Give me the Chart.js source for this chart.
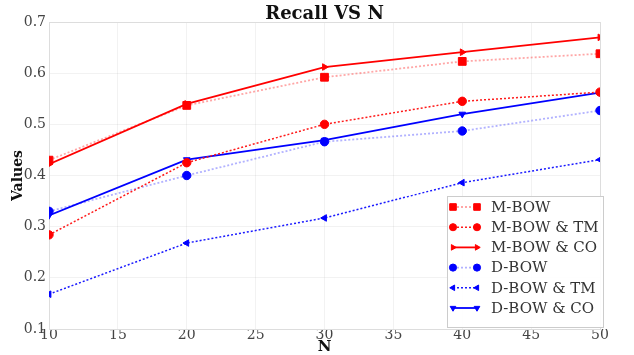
<!DOCTYPE html>
<html>
<head>
<meta charset="utf-8">
<script src="https://cdn.jsdelivr.net/npm/chart.js@4"></script>
<style>
  html, body { margin: 0; padding: 0; background: #fff; }
  #wrap { width: 634px; height: 355px; }
</style>
</head>
<body>
<div id="wrap"><canvas id="recallChart" width="634" height="355"></canvas></div>
<script>
// Data
const nValues = [10, 20, 30, 40, 50];
const mBow = [0.430, 0.537, 0.592, 0.623, 0.638];
const mBowTm = [0.284, 0.425, 0.500, 0.545, 0.563];
const mBowCo = [0.422, 0.540, 0.612, 0.641, 0.670];
const dBow = [0.330, 0.400, 0.466, 0.487, 0.527];
const dBowTm = [0.168, 0.268, 0.317, 0.386, 0.431];
const dBowCo = [0.322, 0.431, 0.469, 0.520, 0.562];
const yTicks = [0.1, 0.2, 0.3, 0.4, 0.5, 0.6, 0.7];

const SERIF = "'DejaVu Serif', serif";
const TITLE = "Recall VS N";

function series(label, values, line, marker, style, rot, dash, width) {
  let r = 4.2;
  if (style === "rect") r = 5.5;
  if (style === "triangle") r = 3.8;
  return {
    label: label,
    data: values.map((v, i) => ({ x: nValues[i], y: v })),
    borderColor: line,
    backgroundColor: marker,
    pointBackgroundColor: marker,
    pointBorderColor: marker,
    pointStyle: style,
    pointRotation: rot,
    pointRadius: r,
    pointBorderWidth: 1,
    borderDash: dash,
    borderWidth: width,
    tension: 0,
    fill: false,
  };
}

// Plot frame and title centred over the plot
const frame = {
  id: "frame",
  beforeDatasetsDraw(chart) {
    const { ctx, chartArea: a } = chart;
    ctx.save();
    ctx.strokeStyle = "#dddddd";
    ctx.lineWidth = 1;
    ctx.strokeRect(a.left + 0.5, a.top + 0.5, a.right - a.left, a.bottom - a.top);
    ctx.fillStyle = "#111111";
    ctx.font = "bold 18px " + SERIF;
    ctx.textAlign = "center";
    ctx.textBaseline = "alphabetic";
    ctx.fillText(TITLE, (a.left + a.right) / 2, 19);
    ctx.restore();
  }
};

// Legend box in the lower right of the plot, two markers per entry
const boxLegend = {
  id: "boxLegend",
  afterDraw(chart) {
    const { ctx, chartArea: a } = chart;
    const sets = chart.data.datasets;
    const w = 156, rowH = 20.2, h = 131;
    const x0 = a.right - w + 3, y0 = a.bottom - h - 2;
    ctx.save();
    ctx.fillStyle = "rgba(255,255,255,0.9)";
    ctx.strokeStyle = "#cccccc";
    ctx.lineWidth = 1;
    ctx.fillRect(x0, y0, w, h);
    ctx.strokeRect(x0 + 0.5, y0 + 0.5, w, h);
    ctx.font = "15px " + SERIF;
    ctx.textBaseline = "middle";
    sets.forEach((ds, i) => {
      const y = y0 + 11 + i * rowH;
      ctx.strokeStyle = ds.borderColor;
      ctx.lineWidth = ds.borderWidth;
      ctx.setLineDash(ds.borderDash);
      ctx.beginPath();
      ctx.moveTo(x0 + 6, y);
      ctx.lineTo(x0 + 30, y);
      ctx.stroke();
      ctx.setLineDash([]);
      [x0 + 6, x0 + 30].forEach(px => {
        ctx.fillStyle = ds.pointBackgroundColor;
        ctx.strokeStyle = ds.pointBorderColor;
        ctx.lineWidth = 1;
        Chart.helpers.drawPoint(ctx, {
          pointStyle: ds.pointStyle,
          rotation: ds.pointRotation,
          radius: ds.pointRadius * 0.85,
          borderWidth: 1
        }, px, y);
      });
      ctx.fillStyle = "#333333";
      ctx.fillText(ds.label, x0 + 44, y + 1);
    });
    ctx.restore();
  }
};

const ctx = document.getElementById("recallChart").getContext("2d");
const recallChart = new Chart(ctx, {
  type: "line",
  data: {
    datasets: [
      series("M-BOW", mBow, "rgba(255,0,0,0.35)", "#ff0000", "rect", 0, [2, 2], 1.8),
      series("M-BOW & TM", mBowTm, "#ff1a1a", "#ff0000", "circle", 0, [2, 2], 1.5),
      series("M-BOW & CO", mBowCo, "#ff0000", "#ff0000", "triangle", 90, [], 1.8),
      series("D-BOW", dBow, "rgba(0,0,255,0.3)", "#0000ff", "circle", 0, [2, 2], 1.8),
      series("D-BOW & TM", dBowTm, "#1a1aff", "#0000ff", "triangle", -90, [2, 2], 1.5),
      series("D-BOW & CO", dBowCo, "#0000ff", "#0000ff", "triangle", 180, [], 1.8),
    ]
  },
  options: {
    responsive: false,
    animation: false,
    layout: { padding: { top: 22, right: 34, bottom: 0, left: 0 } },
    plugins: {
      legend: { display: false },
      tooltip: { enabled: false },
      title: { display: false }
    },
    scales: {
      x: {
        type: "linear",
        min: 10,
        max: 50,
        border: { display: false },
        grid: { color: "rgba(0,0,0,0.05)", drawTicks: false },
        afterFit(scale) { scale.height = 26; },
        ticks: {
          stepSize: 5,
          padding: -2,
          color: "#444444",
          font: { family: SERIF, size: 14 }
        },
        title: {
          display: true,
          text: "N",
          color: "#111111",
          font: { family: SERIF, size: 15, weight: "bold", lineHeight: 1 },
          padding: { top: -3, bottom: 0 }
        }
      },
      y: {
        min: 0.1,
        max: 0.7,
        border: { display: false },
        grid: { color: "rgba(0,0,0,0.05)", drawTicks: false },
        afterFit(scale) { scale.width = 49; },
        afterBuildTicks(scale) {
          scale.ticks = yTicks.map(v => ({ value: v }));
        },
        ticks: {
          padding: 3,
          color: "#444444",
          font: { family: SERIF, size: 14 },
          callback: v => v.toFixed(1)
        },
        title: {
          display: true,
          text: "Values",
          color: "#111111",
          font: { family: SERIF, size: 14, weight: "bold" },
          padding: { top: 10, bottom: 0 }
        }
      }
    }
  },
  plugins: [frame, boxLegend]
});
</script>
</body>
</html>
